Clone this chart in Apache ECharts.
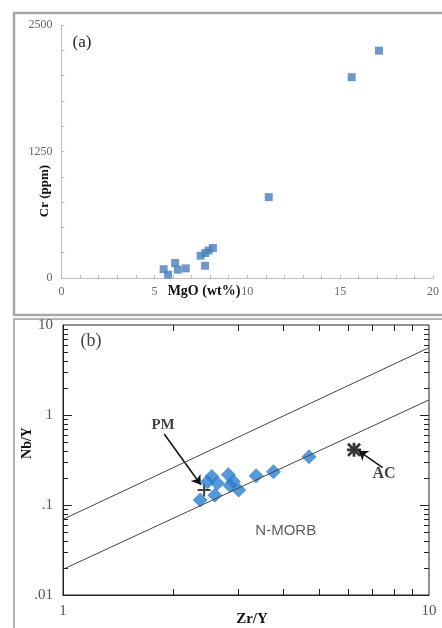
<!DOCTYPE html>
<html>
<head>
<meta charset="utf-8">
<title>MgO-Cr and Zr/Y-Nb/Y</title>
<script src="https://cdn.jsdelivr.net/npm/echarts@6.0.0/dist/echarts.min.js"></script>
<style>
html, body { margin: 0; padding: 0; background: #fff; }
#chart { width: 442px; height: 628px; }
</style>
</head>
<body>
<div id="chart"></div>
<script>
// (a) MgO (wt%) vs Cr (ppm)
var mgo = [17.09, 15.62, 11.16, 8.15, 7.92, 7.74, 7.49, 7.73, 6.69, 6.12, 6.26, 5.50, 5.74];
var cr  = [2246, 1984, 799, 296, 272, 247, 220, 121, 95, 148, 82, 87, 33];

// (b) Zr/Y vs Nb/Y
var zrY = [4.70, 3.76, 3.37, 3.02, 2.92, 2.83, 2.86, 2.64, 2.55, 2.48, 2.60, 2.37];
var nbY = [0.344, 0.234, 0.212, 0.147, 0.183, 0.217, 0.165, 0.174, 0.207, 0.180, 0.128, 0.114];

// reference points and boundary lines
var pmPoint = [2.43, 0.147];
var acPoint = [6.24, 0.41];
var upperLine = [[1, 0.0693], [10, 5.6]];
var lowerLine = [[1, 0.0193], [10, 1.47]];

// annotation arrows (from label to point)
var pmArrow = [[1.89, 0.615], [2.38, 0.168]];
var acArrow = [[7.47, 0.26], [6.42, 0.40]];

// tick values for the log frame
var xMinorTicks = [2, 3, 4, 5, 6, 7, 8, 9];
var yMinorTicks = [0.02, 0.03, 0.04, 0.05, 0.06, 0.07, 0.08, 0.09,
                   0.2, 0.3, 0.4, 0.5, 0.6, 0.7, 0.8, 0.9,
                   2, 3, 4, 5, 6, 7, 8, 9];
var yMajorTicks = [0.1, 1];

var serif = '"Liberation Serif", "DejaVu Serif", serif';
var sans = '"Liberation Sans", Arial, sans-serif';

function pairs(xs, ys) {
    return xs.map(function (x, i) { return [x, ys[i]]; });
}

function logLabel(v) {
    var s = +Number(v).toPrecision(3);
    return s < 1 ? String(s).replace(/^0/, '') : String(s);
}

function makeText(x, y, text, font, fill, rotation) {
    return { type: 'text', x: x, y: y, rotation: rotation || 0, silent: true,
             style: { text: text, font: font, fill: fill, align: 'center', verticalAlign: 'middle' } };
}

function makeBaseGraphic() {
    return [
        // panel frames
        { type: 'rect', shape: { x: 14, y: 13, width: 460, height: 302 },
          style: { fill: 'none', stroke: '#a8a8a8', lineWidth: 2.5 }, silent: true },
        { type: 'rect', shape: { x: 14, y: 319, width: 460, height: 340 },
          style: { fill: 'none', stroke: '#b4b4b4', lineWidth: 2 }, silent: true },
        // panel labels
        makeText(82, 43, '(a)', '17px ' + serif, '#222'),
        makeText(91, 341, '(b)', '18px ' + serif, '#444'),
        // axis names
        makeText(45, 191, 'Cr (ppm)', 'bold 13px ' + serif, '#111', Math.PI / 2),
        makeText(204, 291, 'MgO (wt%)', 'bold 14px ' + serif, '#111'),
        makeText(27, 443, 'Nb/Y', 'bold 14px ' + serif, '#111', Math.PI / 2),
        makeText(252, 619, 'Zr/Y', 'bold 15px ' + serif, '#111')
    ];
}

var chart = echarts.init(document.getElementById('chart'));

var option = {
    backgroundColor: '#fff',
    animation: false,
    grid: [
        { left: 61.5, right: 4, top: 25, bottom: 350 },
        { left: 63, right: 13, top: 325, bottom: 33, show: true, borderColor: '#222', borderWidth: 1 }
    ],
    xAxis: [
        {
            gridIndex: 0, type: 'value', min: 0, max: 20, interval: 5,
            axisLine: { lineStyle: { color: '#bdbdbd' } },
            axisTick: { inside: true, length: 3, lineStyle: { color: '#bdbdbd' } },
            minorTick: { show: true, splitNumber: 5, length: 3, lineStyle: { color: '#bdbdbd' } },
            splitLine: { show: false },
            axisLabel: { color: '#666', fontFamily: serif, fontSize: 12, margin: 8 }
        },
        {
            gridIndex: 1, type: 'log', logBase: 10, min: 1, max: 10,
            axisLine: { lineStyle: { color: '#222' } },
            axisTick: { show: false },
            splitLine: { show: false },
            axisLabel: { color: '#555', fontFamily: serif, fontSize: 15, margin: 9, formatter: logLabel }
        }
    ],
    yAxis: [
        {
            gridIndex: 0, type: 'value', min: 0, max: 2500, interval: 1250,
            axisLine: { show: true, lineStyle: { color: '#bdbdbd' } },
            axisTick: { show: true, inside: true, length: 3, lineStyle: { color: '#bdbdbd' } },
            minorTick: { show: true, splitNumber: 5, length: 3, lineStyle: { color: '#bdbdbd' } },
            splitLine: { show: false },
            axisLabel: { color: '#666', fontFamily: serif, fontSize: 12, margin: 9,
                         formatter: function (v) { return String(v); } }
        },
        {
            gridIndex: 1, type: 'log', logBase: 10, min: 0.01, max: 10,
            axisLine: { show: true, lineStyle: { color: '#222' } },
            axisTick: { show: false },
            splitLine: { show: false },
            axisLabel: { color: '#555', fontFamily: serif, fontSize: 15, margin: 10, formatter: logLabel }
        }
    ],
    series: [
        {
            name: 'MgO-Cr', type: 'scatter', xAxisIndex: 0, yAxisIndex: 0,
            symbol: 'rect', symbolSize: 8,
            itemStyle: { color: '#4a7ebb' },
            data: pairs(mgo, cr)
        },
        {
            name: 'upper', type: 'line', xAxisIndex: 1, yAxisIndex: 1,
            symbol: 'none', lineStyle: { color: '#444', width: 1 }, data: upperLine
        },
        {
            name: 'lower', type: 'line', xAxisIndex: 1, yAxisIndex: 1,
            symbol: 'none', lineStyle: { color: '#444', width: 1 }, data: lowerLine
        },
        {
            name: 'PM', type: 'scatter', xAxisIndex: 1, yAxisIndex: 1,
            symbol: 'path://M4.2,0h1.6v4.2h4.2v1.6h-4.2v4.2h-1.6v-4.2h-4.2v-1.6h4.2z',
            symbolSize: 13, itemStyle: { color: '#111' },
            data: [pmPoint]
        },
        {
            name: 'samples', type: 'scatter', xAxisIndex: 1, yAxisIndex: 1,
            symbol: 'diamond', symbolSize: 15,
            itemStyle: { color: '#2b7fd0' },
            data: pairs(zrY, nbY)
        },
        {
            name: 'AC', type: 'scatter', xAxisIndex: 1, yAxisIndex: 1,
            symbol: 'path://M4,0h2v4h4v2h-4v4h-2v-4h-4v-2h4z M1.4,0L5,3.6L8.6,0L10,1.4L6.4,5L10,8.6L8.6,10L5,6.4L1.4,10L0,8.6L3.6,5L0,1.4Z',
            symbolSize: 14, itemStyle: { color: '#000' },
            data: [acPoint]
        },
        {
            name: 'arrows', type: 'lines', coordinateSystem: 'cartesian2d', xAxisIndex: 1, yAxisIndex: 1,
            symbol: ['none', 'arrow'], symbolSize: 9,
            lineStyle: { color: '#111', width: 1.5, opacity: 1 },
            data: [{ coords: pmArrow }, { coords: acArrow }]
        },
        {
            name: 'labels', type: 'scatter', xAxisIndex: 1, yAxisIndex: 1,
            symbolSize: 1, itemStyle: { color: 'rgba(0,0,0,0)' }, silent: true,
            label: { show: true, position: 'inside', formatter: '{b}', color: '#111',
                     fontFamily: serif, fontWeight: 'bold', fontSize: 15 },
            data: [
                { name: 'PM', value: [1.877, 0.774] },
                { name: 'AC', value: [7.54, 0.221], label: { fontSize: 16 } },
                { name: 'N-MORB', value: [4.06, 0.0518],
                  label: { fontFamily: sans, fontWeight: 'normal', color: '#333', fontSize: 15 } }
            ]
        }
    ]
};

chart.setOption(option);

// inward ticks on all four sides of the log frame, placed with the axes' own scales
function buildTicks() {
    var frameLeft = chart.convertToPixel({ xAxisIndex: 1 }, 1);
    var frameRight = chart.convertToPixel({ xAxisIndex: 1 }, 10);
    var frameBottom = chart.convertToPixel({ yAxisIndex: 1 }, 0.01);
    var frameTop = chart.convertToPixel({ yAxisIndex: 1 }, 10);
    var out = [];

    function tickLine(x1, y1, x2, y2) {
        return { type: 'line', silent: true, z: 5,
                 shape: { x1: x1, y1: y1, x2: x2, y2: y2 },
                 style: { stroke: '#222', lineWidth: 1 } };
    }

    xMinorTicks.forEach(function (v) {
        var x = Math.round(chart.convertToPixel({ xAxisIndex: 1 }, v)) + 0.5;
        out.push(tickLine(x, frameBottom, x, frameBottom - 6));
        out.push(tickLine(x, frameTop, x, frameTop + 6));
    });
    function addYTicks(vals, len) {
        vals.forEach(function (v) {
            var y = Math.round(chart.convertToPixel({ yAxisIndex: 1 }, v)) + 0.5;
            out.push(tickLine(frameLeft, y, frameLeft + len, y));
            out.push(tickLine(frameRight, y, frameRight - len, y));
        });
    }
    addYTicks(yMinorTicks, 5);
    addYTicks(yMajorTicks, 9);
    return out;
}

chart.setOption({ graphic: makeBaseGraphic().concat(buildTicks()) });
</script>
</body>
</html>
